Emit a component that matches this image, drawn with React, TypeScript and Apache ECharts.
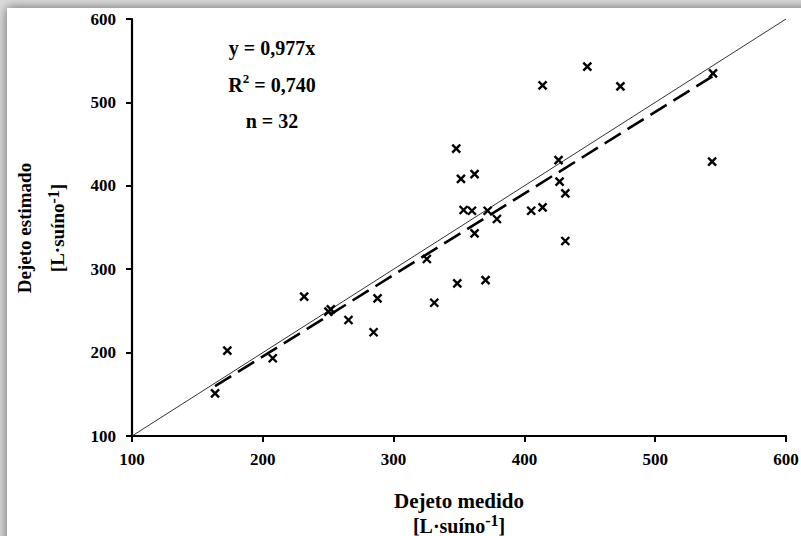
import React, { useEffect, useRef } from 'react';
import * as echarts from 'echarts';

// Measured (x) and estimated (y) values, L·suíno^-1
const measured = [163.5, 172.9, 207.6, 231.6, 250.2, 252.0, 265.5, 284.7, 287.7, 325.4, 331.1, 347.9, 348.7, 351.5, 353.5, 359.9, 361.9, 361.9, 370.3, 371.9, 379.0, 405.2, 413.9, 413.9, 426.1, 426.9, 431.3, 431.3, 448.1, 473.4, 543.5, 544.2];
const estimated = [151.2, 202.3, 193.2, 267.0, 249.1, 251.9, 239.1, 224.4, 265.1, 312.2, 259.8, 444.5, 283.1, 408.2, 371.0, 370.1, 414.1, 343.0, 286.9, 370.1, 360.2, 370.1, 374.2, 520.4, 430.9, 404.9, 391.0, 333.8, 542.8, 519.2, 428.9, 534.9];
const slope = 0.977;
const axisRange = [100, 600];
const axisStep = 100;
const annotations = ['y = 0,977x', '{t|R}{s|2}{t| = 0,740}', 'n = 32'];
const xName = 'Dejeto medido';
const yName = 'Dejeto estimado';
const unitText = '{t|[L·suíno}{s|-1}{t|]}';

const FONT = '"Liberation Serif", "Times New Roman", serif';

export default function App() {
  const ref = useRef<HTMLDivElement>(null);
  useEffect(() => {
    if (!ref.current) return;
    const chart = echarts.init(ref.current, undefined, { renderer: 'svg' });
    const points = measured.map((m, i) => [m, estimated[i]]);
    const xMin = Math.min(...measured);
    const xMax = Math.max(...measured);
    const fitLine = [[xMin, slope * xMin], [xMax, slope * xMax]];
    const oneToOne = [[axisRange[0], axisRange[0]], [axisRange[1], axisRange[1]]];

    const richBase = (size: number, supSize: number) => ({
      t: { fontSize: size, fontWeight: 'bold', fontFamily: FONT, fill: '#000', color: '#000', lineHeight: size + 3, verticalAlign: 'bottom' },
      s: { fontSize: supSize, fontWeight: 'bold', fontFamily: FONT, fill: '#000', color: '#000', lineHeight: Math.round(supSize * 0.6), verticalAlign: 'top' },
    });

    const axisCommon = {
      type: 'value',
      min: axisRange[0],
      max: axisRange[1],
      interval: axisStep,
      axisLine: { show: true, onZero: false, lineStyle: { color: '#000', width: 2.2 } },
      axisTick: { show: true, inside: false, length: 6, lineStyle: { color: '#000', width: 2 } },
      splitLine: { show: false },
    };

    const annY = [46, 83, 119];

    chart.setOption({
      animation: false,
      backgroundColor: '#dcdcdc',
      grid: { left: 132, right: 15, top: 19, bottom: 100, outerBoundsMode: 'none' },
      xAxis: {
        ...axisCommon,
        axisLabel: { color: '#000', fontFamily: FONT, fontWeight: 'bold', fontSize: 17, margin: 15 },
      },
      yAxis: {
        ...axisCommon,
        axisLabel: { color: '#000', fontFamily: FONT, fontWeight: 'bold', fontSize: 17, margin: 16 },
      },
      series: [
        {
          type: 'line',
          data: oneToOne,
          symbol: 'none',
          lineStyle: { color: '#333', width: 1 },
          z: 1,
        },
        {
          type: 'line',
          data: fitLine,
          symbol: 'none',
          lineStyle: { color: '#000', width: 2.6, type: [19, 8] },
          z: 2,
        },
        {
          type: 'scatter',
          data: points,
          symbol: 'path://M0,0L10,10M0,10L10,0',
          symbolSize: 8,
          itemStyle: { color: 'rgba(0,0,0,0)', borderColor: '#000', borderWidth: 2.4, opacity: 1 },
          z: 3,
        },
      ],
      graphic: [
        {
          type: 'rect',
          z: -100,
          silent: true,
          shape: { x: 7, y: 8, width: 830, height: 560 },
          style: { fill: '#fff', shadowBlur: 12, shadowColor: 'rgba(0,0,0,0.55)' },
        },
        ...annotations.map((t, i) => ({
          type: 'text',
          x: 272,
          y: annY[i],
          z: 10,
          style: {
            text: t.startsWith('{') ? t : `{t|${t}}`,
            align: 'center',
            verticalAlign: 'middle',
            rich: richBase(20, 13),
          },
        })),
        {
          type: 'text',
          x: 459,
          y: 499,
          z: 10,
          style: { text: `{t|${xName}}`, align: 'center', verticalAlign: 'middle', rich: richBase(21, 15) },
        },
        {
          type: 'text',
          x: 459,
          y: 524,
          z: 10,
          style: { text: unitText, align: 'center', verticalAlign: 'middle', rich: richBase(20, 16) },
        },
        {
          type: 'text',
          x: 23,
          y: 228,
          rotation: Math.PI / 2,
          z: 10,
          style: { text: `{t|${yName}}`, align: 'center', verticalAlign: 'middle', rich: richBase(19, 14) },
        },
        {
          type: 'text',
          x: 56,
          y: 228,
          rotation: Math.PI / 2,
          z: 10,
          style: { text: unitText, align: 'center', verticalAlign: 'middle', rich: richBase(19, 16) },
        },
      ],
    });
    return () => chart.dispose();
  }, []);
  return <div ref={ref} style={{ position: 'absolute', left: 0, top: 0, width: 801, height: 536 }} />;
}
